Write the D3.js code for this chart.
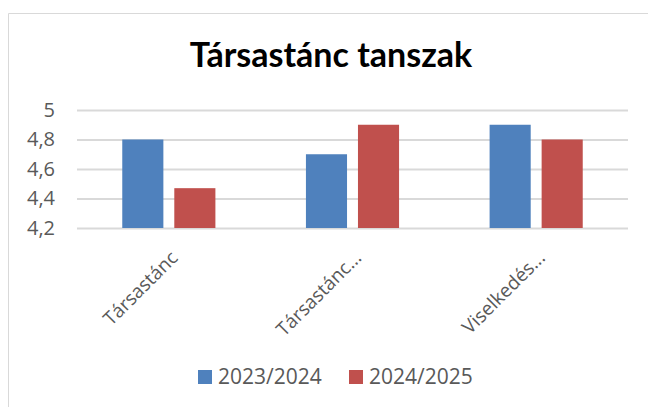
<!DOCTYPE html>
<html>
<head>
<meta charset="utf-8">
<script src="https://cdn.jsdelivr.net/npm/d3@7"></script>
<style>
  html, body { margin: 0; padding: 0; background: #fff; }
  svg { display: block; }
  .tick text { fill: #595959; }
</style>
</head>
<body>
<div id="chart-area"><svg></svg></div>
<script>
const CATEGORIES = ["Társastánc", "Társastánc...", "Viselkedés..."];
const SERIES = ["2023/2024", "2024/2025"];
const VALUES_2023 = [4.8, 4.7, 4.9];
const VALUES_2024 = [4.47, 4.9, 4.8];
const Y_TICKS = [4.2, 4.4, 4.6, 4.8, 5];
const COLORS = ["#4f81bd", "#c0504d"];

const CHART_SIZE = { width: 648, height: 407 };
const MARGIN = { left: 77, right: 20, top: 110, bottom: 179 };
const WIDTH = CHART_SIZE.width - (MARGIN.left + MARGIN.right);
const HEIGHT = CHART_SIZE.height - (MARGIN.top + MARGIN.bottom);

const main = () => {
  const svg = d3
    .select("#chart-area svg")
    .attr("width", CHART_SIZE.width)
    .attr("height", CHART_SIZE.height);

  // chart area border
  svg.append("path")
    .attr("d", "M8.5,407 L8.5,13.5 L648,13.5")
    .attr("fill", "none")
    .attr("stroke", "#d9d9d9");

  svg.append("text")
    .attr("x", 331)
    .attr("y", 67)
    .attr("text-anchor", "middle")
    .attr("font-family", "Lato, 'Open Sans', sans-serif")
    .attr("font-weight", "bold")
    .attr("font-size", 34)
    .attr("fill", "#000")
    .text("Társastánc tanszak");

  const g = svg.append("g")
    .attr("transform", `translate(${MARGIN.left},${MARGIN.top})`);

  const x = d3.scaleBand().domain(CATEGORIES).range([0, WIDTH]);
  const x1 = d3.scaleBand().domain(SERIES).range([0, x.bandwidth()]).paddingInner(0.21).paddingOuter(0.87);
  const y = d3.scaleLinear().domain([4.2, 5]).range([HEIGHT, 0]);

  const yAxis = d3.axisLeft(y).tickValues(Y_TICKS).tickSize(-WIDTH).tickPadding(22)
    .tickFormat(d => d3.format("")(d).replace(".", ","));
  const ya = g.append("g").attr("class", "y-axis").call(yAxis);
  ya.select(".domain").remove();
  ya.selectAll(".tick line").attr("stroke", "#d9d9d9").attr("stroke-width", 2);
  ya.selectAll(".tick text")
    .attr("font-family", "'Open Sans', sans-serif")
    .attr("font-size", 20);

  const data = CATEGORIES.map((c, i) => ({ cat: c, vals: [VALUES_2023[i], VALUES_2024[i]] }));

  const groups = g.selectAll(".cat").data(data).join("g")
    .attr("class", "cat")
    .attr("transform", d => `translate(${x(d.cat)},0)`);

  groups.selectAll("rect")
    .data(d => d.vals.map((v, i) => ({ s: SERIES[i], v, i })))
    .join("rect")
    .attr("x", d => x1(d.s))
    .attr("width", x1.bandwidth())
    .attr("y", d => y(d.v))
    .attr("height", d => HEIGHT - y(d.v))
    .attr("fill", d => COLORS[d.i]);

  const xAxis = d3.axisBottom(x).tickSize(0).tickPadding(0);
  const xa = g.append("g").attr("class", "x-axis")
    .attr("transform", `translate(0,${HEIGHT})`)
    .call(xAxis);
  xa.select(".domain").remove();
  xa.selectAll(".tick text")
    .attr("font-family", "'Open Sans', sans-serif")
    .attr("font-size", 19)
    .attr("text-anchor", "end")
    .attr("dy", 0)
    .attr("transform", "translate(10,31) rotate(-45)");

  // legend
  const legend = svg.append("g").attr("transform", "translate(198,370)");
  const lx = [0, 151];
  SERIES.forEach((s, i) => {
    legend.append("rect")
      .attr("x", lx[i]).attr("y", 0)
      .attr("width", 14).attr("height", 14)
      .attr("fill", COLORS[i]);
    legend.append("text")
      .attr("x", lx[i] + 20).attr("y", 14)
      .attr("font-family", "'Open Sans', sans-serif")
      .attr("font-size", 21)
      .attr("fill", "#595959")
      .text(s);
  });
};

window.onload = main;
</script>
</body>
</html>
